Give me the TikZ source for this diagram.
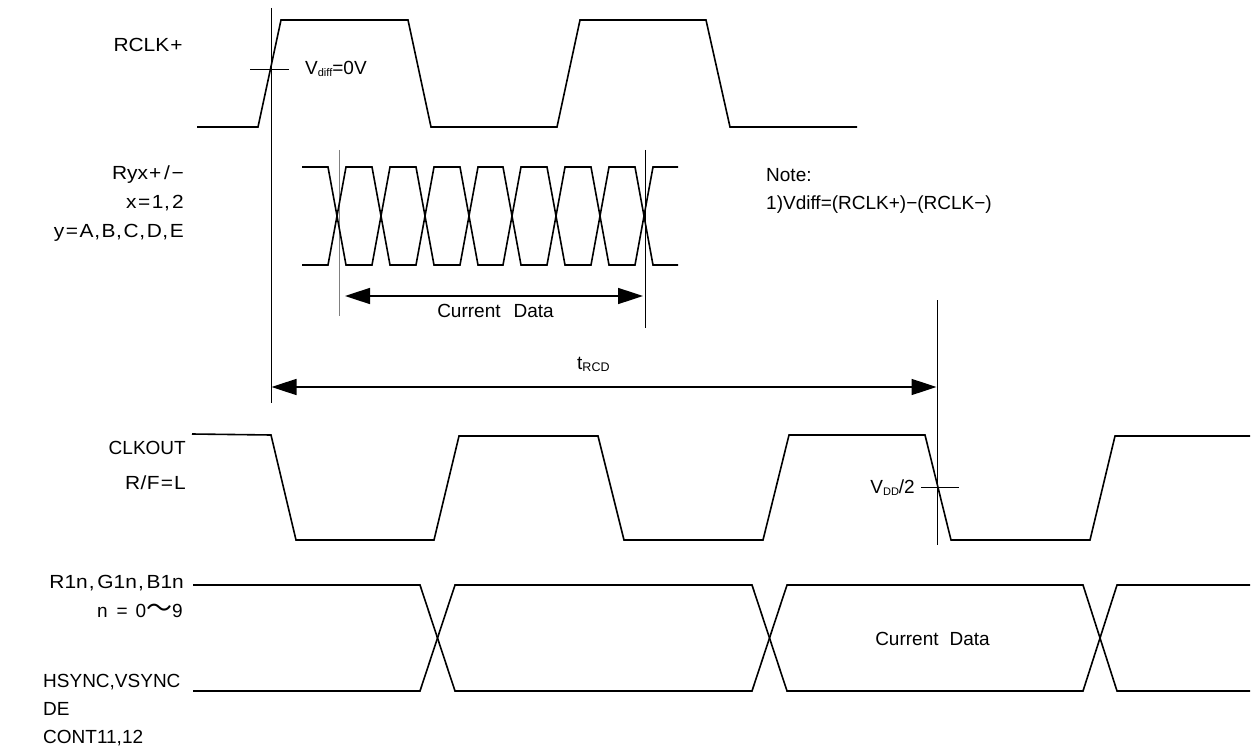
\documentclass[tikz,border=0pt]{standalone}
\usepackage{fontspec}
\setmainfont{Liberation Sans}
\newfontfamily\cjk{Noto Sans CJK JP}
\usetikzlibrary{arrows.meta}
\newcommand\wpad[3]{\kern#1pt#3\kern#2pt}
\newcommand\wide[1]{\scalebox{1.1}[1]{#1}}
\begin{document}
\begin{tikzpicture}[x=1pt,y=-1pt,
  wave/.style={line width=1.6pt, line join=miter},
  refline/.style={line width=0.9pt},
  dimarrow/.style={line width=1.6pt, {Triangle[length=25pt,width=16pt]}-{Triangle[length=25pt,width=16pt]}},
  lbl/.style={inner sep=0pt, font=\fontsize{19}{22}\selectfont}]
\useasboundingbox (0,0) rectangle (1252,754);

% ---------- labels ----------
\node[lbl, anchor=base east] (rclk) at (185,52) {\wide{RCLK\wpad{1}{2}{+}}};
\node[lbl, anchor=base east] (ryx) at (184,180) {\wide{Ryx\wpad{1}{1.5}{+}\wpad{1}{1}{/}\wpad{0.5}{0}{−}}};
\node[lbl, anchor=base east] (xl) at (184,208) {\wide{x\wpad{1.5}{1.5}{=}1\wpad{0.5}{2}{,}2}};
\node[lbl, anchor=base east] (yl) at (184,237) {\wide{y\wpad{1.5}{1.5}{=}A\wpad{0.5}{1.5}{,}B\wpad{0.5}{1.5}{,}C\wpad{0.5}{1.5}{,}D\wpad{0.5}{1.5}{,}E}};
\node[lbl, anchor=base east] (clkout) at (186,454) {CLKOUT};
\node[lbl, anchor=base east] (rf) at (186,489) {\wide{R\wpad{0.5}{0.5}{/}F\wpad{1}{1}{=}L}};
\node[lbl, anchor=base east] (rgb) at (184,588) {\wide{R1n\wpad{1}{2.5}{,}G1n\wpad{1}{2.5}{,}B1n}};
\node[lbl, anchor=base east] (nl) at (183,617) {n\hspace{9pt}=\hspace{8pt}0{\cjk\fontsize{26}{28}\selectfont 〜}9};
\node[lbl, anchor=base west] (hs) at (43,687) {HSYNC,VSYNC};
\node[lbl, anchor=base west] (de) at (43,715) {DE};
\node[lbl, anchor=base west] (cont) at (43,743) {CONT11,12};

\node[lbl, anchor=base west] (vdiff) at (305,75) {V\raisebox{-2pt}{\fontsize{11}{12}\selectfont diff}=0V};
\node[lbl, anchor=base] (cd1) at (495.5,317) {Current\hspace{13pt}Data};
\node[lbl, anchor=base west] (note) at (766,182) {Note:};
\node[lbl, anchor=base west] (note1) at (766,210) {1)Vdiff=(RCLK+)−(RCLK−)};
\node[lbl, anchor=base west] (trcd) at (577,369) {t\raisebox{-2pt}{\fontsize{12.5}{13}\selectfont RCD}};
\node[lbl, anchor=base east] (vdd) at (915,493) {V\raisebox{-2pt}{\fontsize{11}{12}\selectfont DD}/2};
\node[lbl, anchor=base] (cd2) at (932.5,645) {Current\hspace{11pt}Data};

% ---------- reference lines ----------
\coordinate (v1t) at (271,8);   \coordinate (v1b) at (271,403);
\coordinate (v2t) at (339,150); \coordinate (v2b) at (339,316);
\coordinate (v3t) at (645,150); \coordinate (v3b) at (645,328);
\coordinate (v4t) at (937,300); \coordinate (v4b) at (937,545);
\draw[refline] (v1t) -- (v1b);
\draw[refline, gray] (v2t) -- (v2b);
\draw[refline] (v3t) -- (v3b);
\draw[refline] (v4t) -- (v4b);

% ticks
\coordinate (k1a) at (250,69); \coordinate (k1b) at (289,69);
\draw[refline] (k1a) -- (k1b);
\coordinate (k2a) at (921,487); \coordinate (k2b) at (959,487);
\draw[refline] (k2a) -- (k2b);

% ---------- dimension arrows ----------
\coordinate (a1) at (345,296); \coordinate (a2) at (643,296);
\draw[dimarrow] (a1) -- (a2);
\coordinate (t0) at (271.5,387); \coordinate (t1) at (936.5,387);
\draw[dimarrow] (t0) -- (t1);

% ---------- RCLK+ ----------
\draw[wave] (197,127) -- (258,127) -- (281,20) -- (408,20) -- (431,127)
  -- (557,127) -- (580,20) -- (706,20) -- (730,127) -- (857,127);

% ---------- Ryx eye ----------
\draw[wave] (302,167)--(328,167)--(346,265)--(372,265)--(390,167)--(416,167)--(434,265)--(460,265)--(478,167)--(503,167)--(521,265)--(547,265)--(565,167)--(591,167)--(609,265)--(635,265)--(653,167)--(678,167);
\draw[wave] (302,265)--(328,265)--(346,167)--(372,167)--(390,265)--(416,265)--(434,167)--(460,167)--(478,265)--(503,265)--(521,167)--(547,167)--(565,265)--(591,265)--(609,167)--(635,167)--(653,265)--(678,265);

% ---------- CLKOUT ----------
\draw[wave] (192,434) -- (271,435) -- (296,540) -- (434,540) -- (459,436) -- (598,436)
  -- (624,540) -- (763,540) -- (789,435) -- (925,435) -- (951,540) -- (1090,540)
  -- (1115,436) -- (1250,436);

% ---------- data bus ----------
\draw[wave] (193,585)--(420,585)--(455,691)--(752,691)--(787,585)--(1083,585)--(1117,691)--(1250,691);
\draw[wave] (193,691)--(420,691)--(455,585)--(752,585)--(787,691)--(1083,691)--(1117,585)--(1250,585);
\end{tikzpicture}
\end{document}
